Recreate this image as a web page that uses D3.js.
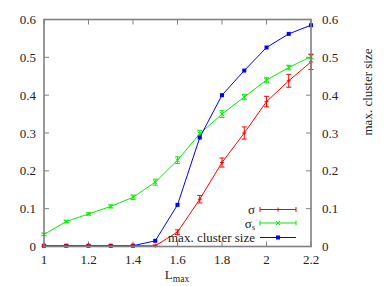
<!DOCTYPE html>
<html><head><meta charset="utf-8">
<script src="https://cdn.jsdelivr.net/npm/d3@7"></script>
<style>body{margin:0;background:#fff}svg{display:block}</style>
</head><body><svg id="c" width="390" height="286"></svg>
<script>
const lmax = [1.0,1.1,1.2,1.3,1.4,1.5,1.6,1.7,1.8,1.9,2.0,2.1,2.2];
const sigma = [0.002,0.002,0.002,0.002,0.002,0.002,0.038,0.125,0.222,0.300,0.383,0.438,0.488];
const sigmaErr = [0.002,0.002,0.002,0.002,0.002,0.002,0.006,0.010,0.012,0.016,0.014,0.017,0.020];
const sigmaS = [0.032,0.066,0.086,0.106,0.130,0.170,0.228,0.298,0.350,0.395,0.440,0.473,0.502];
const sigmaSErr = [0.003,0.003,0.003,0.004,0.006,0.008,0.009,0.009,0.009,0.007,0.006,0.006,0.006];
const maxCluster = [0.002,0.002,0.002,0.002,0.002,0.015,0.110,0.288,0.400,0.465,0.526,0.562,0.585];
const xTicks = [1,1.2,1.4,1.6,1.8,2,2.2];
const yTicks = [0,0.1,0.2,0.3,0.4,0.5,0.6];

const FF = "'Liberation Serif','DejaVu Serif','Times New Roman',Times,serif";
const svg = d3.select("#c").attr("font-family",FF);
const L=44,R=311,T=19.5,B=246.5;
const x = d3.scaleLinear().domain([1,2.2]).range([L,R]);
const y = d3.scaleLinear().domain([0,0.6]).range([B,T]);
const y2 = d3.scaleLinear().domain([0,0.6]).range([B,T]);
const axisCol="#808080", fs=13;

const g = svg.append("g");
xTicks.forEach(v=>{
  g.append("line").attr("x1",x(v)).attr("x2",x(v)).attr("y1",B).attr("y2",B-5).attr("stroke",axisCol);
  g.append("line").attr("x1",x(v)).attr("x2",x(v)).attr("y1",T).attr("y2",T+5).attr("stroke",axisCol);
  g.append("text").attr("x",x(v)).attr("y",B+17).attr("text-anchor","middle").attr("font-size",fs).attr("font-family",FF).attr("fill","#222").text(d3.format("")(v));
});
yTicks.forEach(v=>{
  g.append("line").attr("x1",L).attr("x2",L+5).attr("y1",y(v)).attr("y2",y(v)).attr("stroke",axisCol);
  g.append("line").attr("x1",R).attr("x2",R-5).attr("y1",y2(v)).attr("y2",y2(v)).attr("stroke",axisCol);
  g.append("text").attr("x",L-8).attr("y",y(v)+4.5).attr("text-anchor","end").attr("font-size",fs).attr("font-family",FF).attr("fill","#222").text(v);
  g.append("text").attr("x",R+11).attr("y",y2(v)+4.5).attr("text-anchor","start").attr("font-size",fs).attr("font-family",FF).attr("fill","#222").text(v);
});

const xl = svg.append("text").attr("x",177).attr("y",279).attr("text-anchor","middle").attr("font-size",fs).attr("font-family",FF).attr("fill","#222");
xl.append("tspan").text("L");
xl.append("tspan").attr("dy",3).attr("font-size",9.5).text("max");
svg.append("text").attr("transform","translate(372,92) rotate(-90)").attr("text-anchor","middle").attr("font-size",fs).attr("font-family",FF).attr("fill","#222").text("max. cluster size");

const line = d3.line().x((d,i)=>x(lmax[i])).y(d=>y(d));
function errBars(vals, errs, col){
  const gg = svg.append("g").attr("stroke",col).attr("stroke-width",1);
  vals.forEach((v,i)=>{
    const cx=x(lmax[i]);
    gg.append("line").attr("x1",cx).attr("x2",cx).attr("y1",y(v-errs[i])).attr("y2",y(v+errs[i]));
    gg.append("line").attr("x1",cx-2.5).attr("x2",cx+2.5).attr("y1",y(v-errs[i])).attr("y2",y(v-errs[i]));
    gg.append("line").attr("x1",cx-2.5).attr("x2",cx+2.5).attr("y1",y(v+errs[i])).attr("y2",y(v+errs[i]));
  });
}
const cG="#00ee00", cR="#ff0000", cB="#0000ff";
svg.append("path").attr("d",line(sigmaS)).attr("fill","none").attr("stroke",cG);
errBars(sigmaS,sigmaSErr,cG);
sigmaS.forEach((v,i)=>{const cx=x(lmax[i]),cy=y(v);
  svg.append("path").attr("d",`M${cx-2},${cy-2}L${cx+2},${cy+2}M${cx-2},${cy+2}L${cx+2},${cy-2}`).attr("stroke",cG);});
svg.append("path").attr("d",line(maxCluster)).attr("fill","none").attr("stroke",cB);
maxCluster.forEach((v,i)=>{svg.append("rect").attr("x",x(lmax[i])-2).attr("y",y(v)-2).attr("width",4).attr("height",4).attr("fill",cB);});
svg.append("path").attr("d",line(sigma)).attr("fill","none").attr("stroke",cR);
errBars(sigma,sigmaErr,cR);
sigma.forEach((v,i)=>{const cx=x(lmax[i]),cy=y(v);
  svg.append("path").attr("d",`M${cx-2},${cy}L${cx+2},${cy}M${cx},${cy-2}L${cx},${cy+2}`).attr("stroke",cR);});

svg.append("rect").attr("x",L).attr("y",T).attr("width",R-L).attr("height",B-T).attr("fill","none").attr("stroke",axisCol).attr("stroke-width",1.6);

const legend = [{t:"σ",c:cR,m:"plus",sub:""},{t:"σ",c:cG,m:"x",sub:"s"},{t:"max. cluster size",c:cB,m:"sq",sub:""}];
const legY = [209.5,223,237.5];
legend.forEach((d,i)=>{
  const ly=legY[i];
  const tx = svg.append("text").attr("x",255).attr("y",ly+4.5).attr("text-anchor","end").attr("font-size",fs).attr("font-family",FF).attr("fill","#222");
  tx.append("tspan").text(d.t);
  if(d.sub) tx.append("tspan").attr("dy",2).attr("font-size",8).text(d.sub);
  svg.append("line").attr("x1",260).attr("x2",296).attr("y1",ly).attr("y2",ly).attr("stroke",d.c);
  if(d.m!=="sq"){
    [260,296].forEach(ex=>svg.append("line").attr("x1",ex).attr("x2",ex).attr("y1",ly-2.5).attr("y2",ly+2.5).attr("stroke",d.c));
  }
  const cx=278;
  if(d.m==="plus") svg.append("path").attr("d",`M${cx},${ly-2}L${cx},${ly+2}`).attr("stroke",d.c);
  if(d.m==="x") svg.append("path").attr("d",`M${cx-2},${ly-2}L${cx+2},${ly+2}M${cx-2},${ly+2}L${cx+2},${ly-2}`).attr("stroke",d.c);
  if(d.m==="sq") svg.append("rect").attr("x",cx-2).attr("y",ly-2).attr("width",4).attr("height",4).attr("fill",d.c);
});
</script></body></html>
